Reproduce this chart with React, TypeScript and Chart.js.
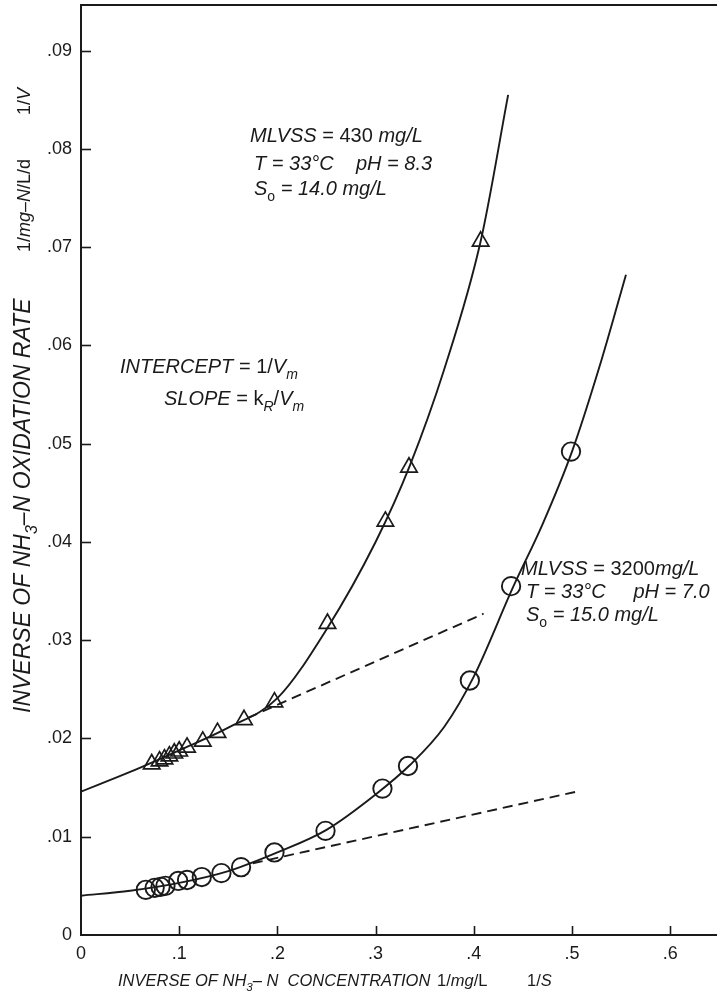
import React, { useEffect, useRef } from "react";
import { Chart, registerables } from "chart.js";

Chart.register(...registerables);

// ---- data ----
const triX = [0.072, 0.080, 0.085, 0.090, 0.095, 0.100, 0.108, 0.124, 0.139, 0.166, 0.197, 0.251, 0.310, 0.334, 0.407];
const triY = [0.0174, 0.0177, 0.0179, 0.0182, 0.0185, 0.0187, 0.0191, 0.0197, 0.0206, 0.0219, 0.0237, 0.0317, 0.0421, 0.0476, 0.0706];

const cirX = [0.066, 0.075, 0.081, 0.086, 0.099, 0.108, 0.123, 0.143, 0.163, 0.197, 0.249, 0.307, 0.333, 0.396, 0.438, 0.499];
const cirY = [0.0046, 0.0048, 0.0049, 0.0050, 0.0055, 0.0056, 0.0059, 0.0063, 0.0069, 0.0084, 0.0106, 0.0149, 0.0172, 0.0259, 0.0355, 0.0492];

const upCurveX = [0, 0.05, 0.10, 0.15, 0.20, 0.25, 0.30, 0.335, 0.37, 0.407, 0.435];
const upCurveY = [0.0146, 0.0166, 0.0188, 0.0211, 0.0241, 0.0311, 0.0400, 0.0478, 0.0576, 0.0706, 0.0855];

const loCurveX = [0, 0.05, 0.10, 0.15, 0.20, 0.25, 0.30, 0.335, 0.37, 0.40, 0.44, 0.47, 0.50, 0.53, 0.555];
const loCurveY = [0.0040, 0.0045, 0.0053, 0.0065, 0.0084, 0.0107, 0.0143, 0.0173, 0.0212, 0.0263, 0.0354, 0.0418, 0.0492, 0.0585, 0.0672];

const upDashX = [0.17, 0.41];
const upDashY = [0.0221, 0.0327];
const loDashX = [0.175, 0.505];
const loDashY = [0.0073, 0.0146];

const xTickValues = [0, 0.1, 0.2, 0.3, 0.4, 0.5, 0.6];
const xTickLabels = ["0", ".1", ".2", ".3", ".4", ".5", ".6"];
const yTickValues = [0, 0.01, 0.02, 0.03, 0.04, 0.05, 0.06, 0.07, 0.08, 0.09];
const yTickLabels = ["0", ".01", ".02", ".03", ".04", ".05", ".06", ".07", ".08", ".09"];

const X_MAX = 0.6477;
const Y_MAX = 0.09465;

const INK = "#1a1a1a";
const FAMILY = '"Liberation Sans", Arial, Helvetica, sans-serif';

type Seg = { t: string; it?: boolean; sub?: boolean; size?: number };

function pts(xs: number[], ys: number[]) {
  return xs.map((x, i) => ({ x, y: ys[i] }));
}

function drawRich(ctx: CanvasRenderingContext2D, segs: Seg[], x: number, y: number, size: number, rotate = false) {
  ctx.save();
  ctx.translate(x, y);
  if (rotate) ctx.rotate(-Math.PI / 2);
  ctx.fillStyle = INK;
  ctx.textAlign = "left";
  ctx.textBaseline = "alphabetic";
  let cx = 0;
  for (const s of segs) {
    const base = s.size ?? size;
    const fs = base * (s.sub ? 0.7 : 1);
    ctx.font = `${s.it ? "italic " : ""}${fs}px ${FAMILY}`;
    const dy = s.sub ? base * 0.3 : 0;
    ctx.fillText(s.t, cx, dy);
    cx += ctx.measureText(s.t).width;
  }
  ctx.restore();
}

const decorPlugin = {
  id: "decor",
  afterDraw(chart: any) {
    const ctx: CanvasRenderingContext2D = chart.ctx;
    const xs = chart.scales.x;
    const ys = chart.scales.y;
    const area = chart.chartArea;
    ctx.save();
    ctx.strokeStyle = INK;
    ctx.lineWidth = 2;
    // top frame line
    ctx.beginPath();
    ctx.moveTo(area.left - 1, area.top);
    ctx.lineTo(area.right, area.top);
    ctx.stroke();
    // inward tick marks
    ctx.lineWidth = 1.6;
    yTickValues.forEach((v) => {
      if (v === 0) return;
      const py = Math.round(ys.getPixelForValue(v)) + 0.5;
      ctx.beginPath();
      ctx.moveTo(area.left, py);
      ctx.lineTo(area.left + 10, py);
      ctx.stroke();
    });
    xTickValues.forEach((v) => {
      if (v === 0) return;
      const px = Math.round(xs.getPixelForValue(v)) + 0.5;
      ctx.beginPath();
      ctx.moveTo(px, area.bottom);
      ctx.lineTo(px, area.bottom - 9);
      ctx.stroke();
    });
    ctx.restore();

    // y-axis title (rotated)
    drawRich(ctx, [
      { t: "INVERSE OF NH", it: true },
      { t: "3", it: true, sub: true },
      { t: "\u2013N OXIDATION RATE", it: true },
    ], 30, 713, 23, true);
    drawRich(ctx, [
      { t: "1/" },
      { t: "mg\u2013N", it: true },
      { t: "/L/d" },
    ], 30, 252, 18, true);
    drawRich(ctx, [{ t: "1/" }, { t: "V", it: true }], 30, 115, 18, true);

    // x-axis title
    drawRich(ctx, [
      { t: "INVERSE OF NH", it: true },
      { t: "3", it: true, sub: true },
      { t: "\u2013 N  CONCENTRATION", it: true },
    ], 118, 986, 16.5);
    drawRich(ctx, [{ t: "1/" }, { t: "mg", it: true }, { t: "/L" }], 437, 986, 16.5);
    drawRich(ctx, [{ t: "1/" }, { t: "S", it: true }], 527, 986, 16.5);

    // annotations, upper series
    const A = 20;
    drawRich(ctx, [{ t: "MLVSS", it: true }, { t: " = 430 " }, { t: "mg/L", it: true }], 250, 142, A);
    drawRich(ctx, [{ t: "T = 33\u00b0C    pH = 8.3", it: true }], 254, 170, A);
    drawRich(ctx, [{ t: "S", it: true }, { t: "o", sub: true }, { t: " = 14.0 mg/L", it: true }], 254, 195, A);

    // intercept / slope
    drawRich(ctx, [{ t: "INTERCEPT", it: true }, { t: " = 1/" }, { t: "V", it: true }, { t: "m", it: true, sub: true }], 120, 373, A);
    drawRich(ctx, [{ t: "SLOPE", it: true }, { t: " = k" }, { t: "R", it: true, sub: true }, { t: "/" }, { t: "V", it: true }, { t: "m", it: true, sub: true }], 164, 405, A);

    // annotations, lower series
    drawRich(ctx, [{ t: "MLVSS", it: true }, { t: " = 3200" }, { t: "mg/L", it: true }], 521, 575, A);
    drawRich(ctx, [{ t: "T = 33\u00b0C     pH = 7.0", it: true }], 526, 598, A);
    drawRich(ctx, [{ t: "S", it: true }, { t: "o", sub: true }, { t: " = 15.0 mg/L", it: true }], 526, 621, A);
  },
};

export default function App() {
  const ref = useRef<HTMLCanvasElement | null>(null);

  useEffect(() => {
    if (!ref.current) return;
    const lineBase = {
      showLine: true,
      pointRadius: 0,
      pointHoverRadius: 0,
      borderColor: INK,
      backgroundColor: INK,
      fill: false,
    };
    const chart = new Chart(ref.current, {
      type: "scatter",
      data: {
        datasets: [
          {
            label: "MLVSS 430",
            data: pts(triX, triY),
            pointStyle: "triangle",
            pointRadius: 9.5,
            pointHoverRadius: 9.5,
            borderColor: INK,
            borderWidth: 1.7,
            backgroundColor: "rgba(255,255,255,0)",
            showLine: false,
          },
          {
            label: "MLVSS 3200",
            data: pts(cirX, cirY),
            pointStyle: "circle",
            pointRadius: 9.2,
            pointHoverRadius: 9.2,
            borderColor: INK,
            borderWidth: 1.9,
            backgroundColor: "rgba(255,255,255,0)",
            showLine: false,
          },
          { ...lineBase, label: "fit upper", data: pts(upCurveX, upCurveY), borderWidth: 1.9, cubicInterpolationMode: "monotone" },
          { ...lineBase, label: "fit lower", data: pts(loCurveX, loCurveY), borderWidth: 1.9, cubicInterpolationMode: "monotone" },
          { ...lineBase, label: "tangent upper", data: pts(upDashX, upDashY), borderWidth: 1.9, borderDash: [10, 6] },
          { ...lineBase, label: "tangent lower", data: pts(loDashX, loDashY), borderWidth: 1.9, borderDash: [10, 6] },
        ] as any,
      },
      options: {
        animation: false,
        responsive: false,
        devicePixelRatio: 1,
        events: [],
        layout: { autoPadding: false, padding: { left: 0, right: 0, top: 5, bottom: 0 } },
        plugins: {
          legend: { display: false },
          tooltip: { enabled: false },
          title: { display: false },
        },
        scales: {
          x: {
            type: "linear",
            min: 0,
            max: X_MAX,
            afterBuildTicks: (s: any) => {
              s.ticks = xTickValues.map((v) => ({ value: v }));
            },
            afterFit: (s: any) => {
              s.height = 64;
              s.paddingLeft = 0;
              s.paddingRight = 0;
              s.paddingTop = 0;
              s.paddingBottom = 0;
            },
            grid: { display: false, drawTicks: false },
            border: { display: true, color: INK, width: 2 },
            ticks: {
              color: INK,
              font: { family: FAMILY, size: 18 },
              padding: 8,
              maxRotation: 0,
              autoSkip: false,
              callback: (_v: any, i: number) => xTickLabels[i],
            },
          },
          y: {
            type: "linear",
            min: 0,
            max: Y_MAX,
            afterBuildTicks: (s: any) => {
              s.ticks = yTickValues.map((v) => ({ value: v }));
            },
            afterFit: (s: any) => {
              s.width = 81;
              s.paddingLeft = 0;
              s.paddingRight = 0;
              s.paddingTop = 0;
              s.paddingBottom = 0;
            },
            grid: { display: false, drawTicks: false },
            border: { display: true, color: INK, width: 2 },
            ticks: {
              color: INK,
              font: { family: FAMILY, size: 18 },
              padding: 9,
              autoSkip: false,
              callback: (_v: any, i: number) => yTickLabels[i],
            },
          },
        },
      } as any,
      plugins: [decorPlugin],
    });
    return () => chart.destroy();
  }, []);

  return (
    <div style={{ position: "fixed", left: 0, top: 0, width: 717, height: 999, background: "#fff" }}>
      <canvas ref={ref} width={717} height={999} style={{ display: "block", width: 717, height: 999 }} />
    </div>
  );
}
